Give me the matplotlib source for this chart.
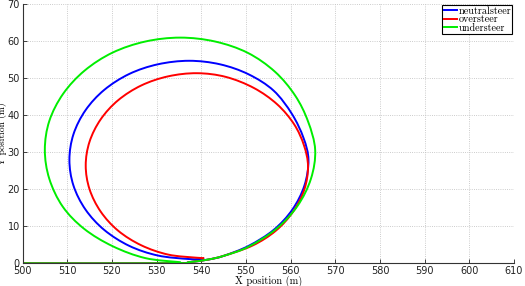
import matplotlib
matplotlib.use("Agg")
import matplotlib.pyplot as plt
import numpy as np
from matplotlib.path import Path
from matplotlib.patches import PathPatch
from matplotlib.lines import Line2D

# ---- data ----
# common straight run and start of the turn
x_start = [500.0, 533.0, 537.5, 541.5, 545.0]
y_start = [0.0, 0.0, 0.35, 1.0, 2.0]

x_neutral = [550.6, 556.2, 560.4, 563.1, 564.0, 562.9, 560.3, 556.2, 550.6, 544.2,
             537.3, 530.3, 523.9, 518.3, 514.1, 511.4, 510.5, 511.4, 514.1, 518.3,
             523.9, 530.3, 537.3, 540.5]
y_neutral = [4.7, 9.0, 14.5, 21.0, 27.9, 33.8, 40.3, 46.6, 51.0, 53.7,
             54.65, 53.7, 51.1, 46.8, 41.3, 34.8, 27.9, 21.0, 14.5, 9.0,
             4.7, 2.1, 1.15, 1.2]

x_over = [551.5, 556.7, 560.6, 563.1, 563.9, 563.0, 560.8, 557.0, 551.8, 545.5,
          539.05, 532.6, 526.6, 521.4, 517.5, 515.0, 514.15, 515.0, 517.5, 521.4,
          526.6, 532.6, 539.05, 540.5]
y_over = [4.8, 8.8, 14.0, 20.0, 26.2, 31.8, 37.5, 42.9, 47.3, 50.3,
          51.3, 50.45, 48.0, 44.0, 38.85, 32.8, 26.4, 20.0, 13.95, 8.8,
          4.85, 2.35, 1.5, 1.45]

x_under = [550.45, 556.7, 561.5, 564.55, 565.5, 563.9, 561.0, 556.5, 550.4, 543.1,
           535.3, 527.5, 520.15, 513.9, 509.1, 506.0, 505.0, 506.0, 509.0, 513.8,
           520.2, 527.5, 535.3]
y_under = [4.4, 9.2, 15.4, 22.8, 30.6, 38.3, 45.3, 51.7, 56.8, 59.85,
           60.9, 59.85, 56.85, 52.0, 45.75, 38.4, 30.6, 22.8, 15.3, 9.3,
           4.6, 1.4, 0.3]

labels = ["neutralsteer", "oversteer", "understeer"]
colors = ["#0000ff", "#ff0000", "#00ee00"]
x_ticks = list(range(500, 611, 10))
y_ticks = list(range(0, 71, 10))

fig = plt.figure(figsize=(5.25, 2.86), dpi=100)
ax = fig.add_axes([22.5 / 525, 22.7 / 286, 491.5 / 525, 259.4 / 286])
ax.set_xlim(500, 610)
ax.set_ylim(0, 70)


def smooth_path(xs, ys, ax):
    """Draw the read points as a smooth line (Catmull-Rom rendered as Bezier
    segments in display space, passing through every read point)."""
    pts = ax.transData.transform(np.column_stack([xs, ys]))
    n = len(pts)
    verts = [pts[0]]
    codes = [Path.MOVETO]
    for i in range(n - 1):
        p0 = pts[i - 1] if i > 0 else pts[i]
        p1, p2 = pts[i], pts[i + 1]
        p3 = pts[i + 2] if i + 2 < n else pts[i + 1]
        c1 = p1 + (p2 - p0) / 6.0
        c2 = p2 - (p3 - p1) / 6.0
        verts += [c1, c2, p2]
        codes += [Path.CURVE4] * 3
    return Path(verts, codes)


series = [(x_neutral, y_neutral), (x_over, y_over), (x_under, y_under)]
handles = []
for (xs, ys), lab, col in zip(series, labels, colors):
    path = smooth_path(x_start + xs, y_start + ys, ax)
    patch = PathPatch(path, facecolor="none", edgecolor=col, lw=1.4,
                      transform=None, capstyle="round", joinstyle="round")
    ax.add_artist(patch)
    patch.set_clip_box(ax.bbox)
    handles.append(Line2D([], [], color=col, lw=1.4, label=lab))

ax.set_xticks(x_ticks)
ax.set_yticks(y_ticks)
ax.tick_params(direction="in", length=3, width=0.6, labelsize=7, pad=2,
               colors="#222222")
ax.grid(True, linestyle=":", color="#bbbbbb", linewidth=0.6)
ax.set_axisbelow(True)
for s in ["top", "right"]:
    ax.spines[s].set_visible(False)
for s in ["left", "bottom"]:
    ax.spines[s].set_linewidth(0.8)
    ax.spines[s].set_color("#333333")

ax.set_xlabel("X position (m)", family="cmr10", fontsize=7.5)
ax.xaxis.set_label_coords(0.5, -0.048)
ax.xaxis.label.set_va("top")
ax.set_ylabel("Y position (m)", family="cmr10", fontsize=7)
ax.yaxis.set_label_coords(-0.031, 0.5)

leg = ax.legend(handles=handles, loc="upper right",
                prop={"family": "cmr10", "size": 7.3},
                handlelength=1.3, handletextpad=0.2, borderpad=0.1,
                labelspacing=-0.1, borderaxespad=0.15, fancybox=False,
                framealpha=1, edgecolor="black")
leg.get_frame().set_linewidth(0.8)

fig.savefig("out.png", dpi=100)
